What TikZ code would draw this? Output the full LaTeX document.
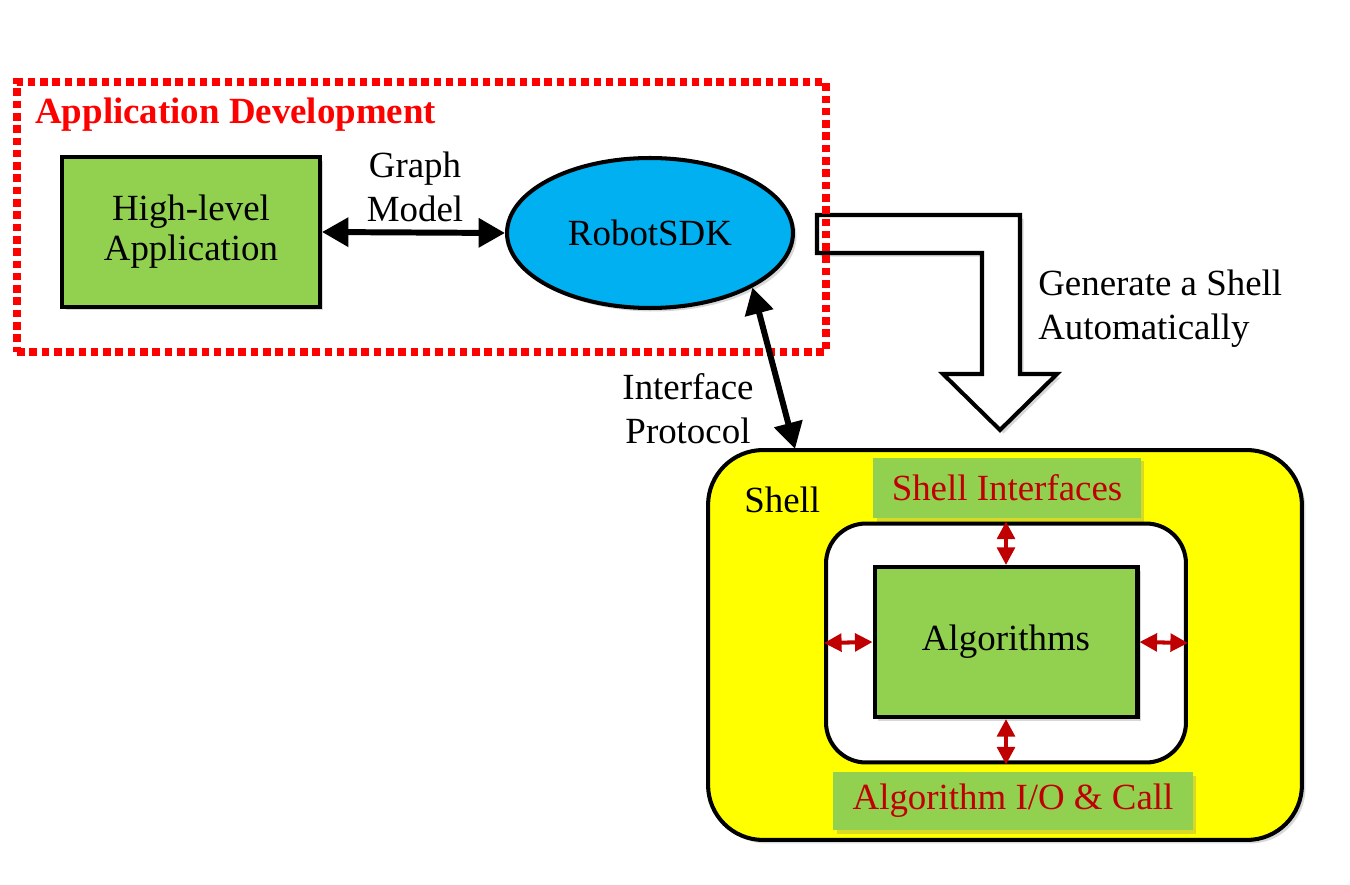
\documentclass[tikz,border=0pt]{standalone}
\usepackage{fontspec}
\setmainfont{Liberation Serif}
\usetikzlibrary{arrows.meta,shapes.geometric,shadows}
\definecolor{lgreen}{HTML}{92D050}
\definecolor{scyan}{HTML}{00B0F0}
\definecolor{dred}{HTML}{C00000}
\definecolor{pred}{HTML}{FF0000}
\definecolor{syellow}{HTML}{FFFF00}
\begin{document}
\begin{tikzpicture}[x=0.02cm,y=-0.02cm,
  txt/.style={font=\fontsize{21}{25}\selectfont, align=center, inner sep=0pt},
  shad/.style={drop shadow={opacity=0.3,shadow xshift=2pt,shadow yshift=-2pt}},
  greenbox/.style={draw=black, line width=2.3pt, fill=lgreen, shad, txt},
  labelbox/.style={fill=lgreen, txt, text=dred, shad},
  bigarr/.style={line width=3.4pt, {Triangle[length=15pt,width=16pt]}-{Triangle[length=15pt,width=16pt]}},
  redarr/.style={draw=dred, line width=2.3pt, {Triangle[length=10pt,width=10pt]}-{Triangle[length=10pt,width=10pt]}}]
\fill[white] (0,0) rectangle (1350,885);
\useasboundingbox (0,0) rectangle (1350,885);

% bent "generate" arrow
\draw[line width=2.3pt, fill=white, shad, line join=miter]
  (817,215) -- (1020,215) -- (1020,374) -- (1057,374) -- (1000,430)
  -- (943,374) -- (982,374) -- (982,253) -- (817,253) -- cycle;

% application development region
\node[draw=pred, line width=4.3pt, dash pattern=on 4.3pt off 2.7pt,
      minimum width=16.18cm, minimum height=5.4cm, inner sep=0pt] (appdev) at (421.5,217) {};
\node[txt, font=\bfseries\fontsize{21}{25}\selectfont, text=pred, anchor=base west] (title) at (35,124) {Application Development};

\node[greenbox, minimum width=5.16cm, minimum height=3cm] (hla) at (191,232) {\raisebox{-4pt}{\begin{tabular}{@{}c@{}}High-level\\[-2pt]Application\end{tabular}}};
\node[ellipse, draw=black, line width=2.3pt, fill=scyan, shad, txt,
      minimum width=5.72cm, minimum height=3cm] (sdk) at (650,233) {RobotSDK};
\node[txt] (gm) at (415,187) {Graph\\Model};
\draw[bigarr] (hla.east) -- (sdk.west);

% shell
\node[draw=black, line width=2.3pt, fill=syellow, rounded corners=1.1cm, shad,
      minimum width=11.88cm, minimum height=7.8cm] (shell) at (1005,645) {};
\node[txt, anchor=base west] (shlabel) at (744,512) {Shell};
\node[labelbox, minimum width=5.36cm, minimum height=1.22cm] (si) at (1007,488) {Shell Interfaces};
\node[draw=black, line width=2.3pt, fill=white, rounded corners=0.8cm,
      minimum width=7.2cm, minimum height=4.78cm] (inner) at (1006,643) {};
\node[greenbox, minimum width=5.26cm, minimum height=3cm] (alg) at (1006,642) {Algorithms};
\node[labelbox, minimum width=7.2cm, minimum height=1.16cm] (aio) at (1013,801) {Algorithm I/O \& Call};

\draw[redarr] (alg.north) -- (inner.north);
\draw[redarr] (alg.south) -- (inner.south);
\draw[redarr] (alg.west) -- (inner.west);
\draw[redarr] (alg.east) -- (inner.east);

% interface protocol
\coordinate (shtop) at (795,449);
\draw[bigarr] (sdk.-28) -- (shtop);
\node[txt] (ip) at (688,409) {Interface\\Protocol};

\node[txt, align=left, anchor=west] (gen) at (1038,309) {Generate a Shell\\Automatically};
\end{tikzpicture}
\end{document}
